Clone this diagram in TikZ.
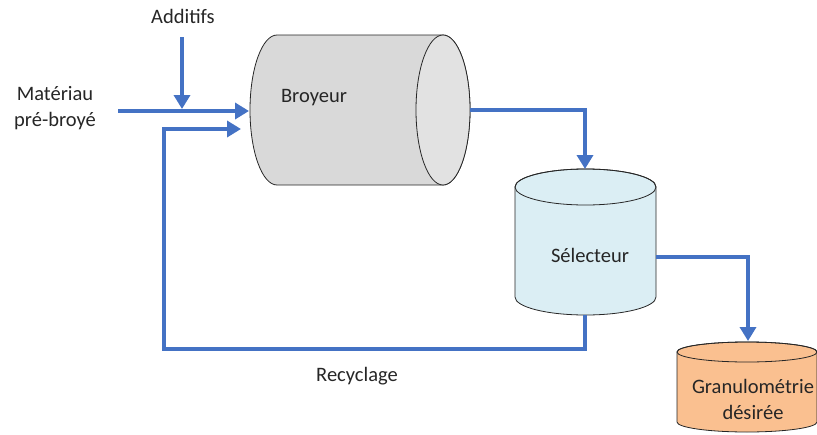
\documentclass[tikz,border=0pt]{standalone}
\usepackage{fontspec}
\setmainfont{Carlito}
\usetikzlibrary{arrows.meta}
\definecolor{flow}{RGB}{68,114,196}
\definecolor{broyfill}{RGB}{217,217,217}
\definecolor{broyend}{RGB}{226,226,226}
\definecolor{selfill}{RGB}{219,238,244}
\definecolor{granfill}{RGB}{250,192,144}
\definecolor{txt}{RGB}{38,38,38}
\tikzset{
  flowline/.style={draw=flow,line width=4.6pt,-{Triangle[length=14pt,width=16pt]}},
  outline/.style={draw=black!85,line width=0.8pt},
  lbl/.style={text=txt,font=\fontsize{20.5}{26}\selectfont,align=center,inner sep=0pt},
}
\begin{document}
\begin{tikzpicture}[x=1pt,y=1pt]
\useasboundingbox (0,0) rectangle (817,-434);
% Broyeur (horizontal cylinder)
\path[outline,fill=broyfill] (443,-35) -- (277,-35)
  arc[start angle=90,end angle=270,x radius=27,y radius=75] -- (443,-185)
  arc[start angle=-90,end angle=90,x radius=27,y radius=75] -- cycle;
\path[outline,fill=broyend] (443,-110) ellipse[x radius=27,y radius=75];
\node[lbl] (broy) at (314,-98) {Broyeur};
% Selecteur (vertical cylinder)
\path[outline,fill=selfill] (515,-187) -- (515,-297)
  arc[start angle=180,end angle=360,x radius=70.5,y radius=18] -- (656,-187)
  arc[start angle=0,end angle=180,x radius=70.5,y radius=18] -- cycle;
\path[outline] (585.5,-187) ellipse[x radius=70.5,y radius=18];
\node[lbl] (sel) at (590,-255) {Sélecteur};
% Granulometrie (vertical cylinder)
\path[outline,fill=granfill] (677,-352) -- (677,-422)
  arc[start angle=180,end angle=360,x radius=70,y radius=10] -- (817,-352)
  arc[start angle=0,end angle=180,x radius=70,y radius=10] -- cycle;
\path[outline] (747,-352) ellipse[x radius=70,y radius=10];
\node[lbl] (gran) at (753,-399) {Granulométrie\\désirée};
% labels
\node[lbl] (add) at (183,-16) {Additifs};
\node[lbl] (mat) at (55,-108) {Matériau\\pré-broyé};
\node[lbl] (rec) at (357,-376) {Recyclage};
% connection points
\coordinate (matout) at (118,-111);
\coordinate (broyin) at (249,-111);
\coordinate (addout) at (182,-37);
\coordinate (addin) at (182,-109);
\coordinate (recin) at (241,-129);
\coordinate (broyout) at (470,-110);
\coordinate (selin) at (585,-169);
\coordinate (selout) at (656,-257);
\coordinate (selbot) at (585,-315);
\coordinate (granin) at (748,-341);
\coordinate (reccornerA) at (585,-349);
\coordinate (reccornerB) at (164,-349);
% connectors
\draw[flowline] (matout) -- (broyin);
\draw[flowline] (addout) -- (addin);
\draw[flowline] (broyout) -| (selin);
\draw[flowline] (selout) -| (granin);
\draw[flowline] (selbot) -- (reccornerA) -- (reccornerB) |- (recin);
\end{tikzpicture}
\end{document}
